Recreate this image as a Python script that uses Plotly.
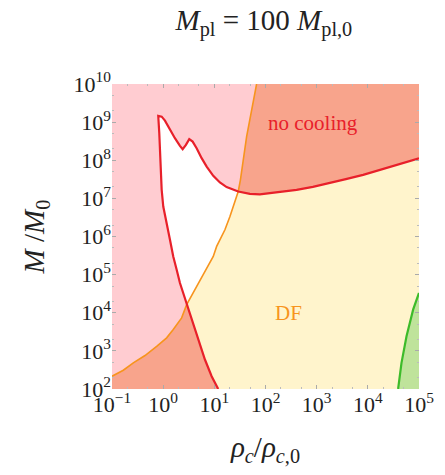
import numpy as np
import plotly.graph_objects as go

# Curves given as log10 values: (log10 rho_c/rho_c0, log10 M/M0)
# Dynamical-friction boundary, split at its two crossings with the cooling curve
df_lower_x = [-1.0, -0.779, -0.584, -0.355, -0.127, 0.068, 0.197, 0.361, 0.459]
df_lower_y = [2.336, 2.493, 2.687, 2.878, 3.121, 3.341, 3.559, 3.865, 4.213]
df_mid_x = [0.459, 0.621, 0.719, 0.850, 0.979, 1.045, 1.207, 1.305, 1.369, 1.467]
df_mid_y = [4.213, 4.606, 4.823, 5.130, 5.478, 5.740, 6.177, 6.525, 6.787, 7.180]
df_upper_x = [1.467, 1.510, 1.631, 1.826]
df_upper_y = [7.180, 7.486, 8.620, 10.0]

# Cooling boundary: lower tail, closed loop, right branch
cool_lower_x = [1.076, 0.947, 0.816, 0.686, 0.557, 0.459]
cool_lower_y = [2.0, 2.336, 2.773, 3.297, 3.820, 4.213]
cool_loop_x = [0.459, 0.393, 0.328, 0.264, 0.197, 0.133, 0.068, 0.002, -0.029,
               -0.043, -0.0625, -0.076, -0.096, -0.029, 0.035, 0.133, 0.230,
               0.328, 0.381, 0.445, 0.510, 0.576, 0.654, 0.752, 0.850, 0.979,
               1.109, 1.240, 1.369, 1.467]
cool_loop_y = [4.213, 4.475, 4.781, 5.130, 5.478, 5.915, 6.352, 6.787, 7.224,
               7.835, 8.272, 8.709, 9.162, 9.144, 9.039, 8.795, 8.578,
               8.376, 8.290, 8.403, 8.552, 8.489, 8.316, 8.054, 7.835, 7.591,
               7.416, 7.295, 7.224, 7.180]
cool_right_x = [1.467, 1.695, 1.891, 2.086, 2.340, 2.607, 2.926, 3.258, 3.570,
                3.908, 4.234, 4.561, 4.781, 5.0]
cool_right_y = [7.180, 7.120, 7.107, 7.138, 7.177, 7.224, 7.303, 7.400, 7.505,
                7.617, 7.748, 7.879, 7.958, 8.05]

# Third boundary near the high-density edge
green_x = [4.592, 4.658, 4.756, 4.885, 5.0]
green_y = [2.0, 2.686, 3.383, 4.082, 4.52]

x_ticks = [-1, 0, 1, 2, 3, 4, 5]
y_ticks = [2, 3, 4, 5, 6, 7, 8, 9, 10]

XMIN, XMAX, YMIN, YMAX = -1, 5, 2, 10

PINK = "#FFCCD1"
SALMON = "#F8A48C"
YELLOW = "#FFF4CC"
GREENFILL = "#BFE39B"
RED = "#E8202A"
ORANGE = "#F7941D"
GREEN = "#3DBB2A"


def p(v):
    return list(np.power(10.0, v))


def poly(xs, ys, color):
    return go.Scatter(x=p(xs), y=p(ys), mode="lines", fill="toself",
                      fillcolor=color, line=dict(width=0), hoverinfo="skip",
                      showlegend=False)


fig = go.Figure()

# DF region (to the right of the orange curve)
df_x = df_lower_x + df_mid_x[1:] + df_upper_x[1:]
df_y = df_lower_y + df_mid_y[1:] + df_upper_y[1:]
fig.add_trace(poly(df_x + [XMAX + 1, XMAX + 1, XMIN],
                   df_y + [YMAX, YMIN, YMIN], YELLOW))

# Overlap: no cooling and DF, upper right
fig.add_trace(poly(df_upper_x + [XMAX + 1] + cool_right_x[::-1],
                   df_upper_y + [YMAX] + cool_right_y[::-1], SALMON))

# Overlap: no cooling and DF, lower left
fig.add_trace(poly([XMIN] + df_lower_x + cool_lower_x[::-1][1:],
                   [YMIN] + df_lower_y + cool_lower_y[::-1][1:], SALMON))

# Allowed region inside the loop
fig.add_trace(poly(cool_loop_x + df_mid_x[::-1],
                   cool_loop_y + df_mid_y[::-1], "white"))

# Green region
fig.add_trace(poly(green_x + [XMAX], green_y + [YMIN], GREENFILL))

# Boundary lines
fig.add_trace(go.Scatter(x=p(df_x), y=p(df_y), mode="lines",
                         line=dict(color=ORANGE, width=1.6), showlegend=False))
cool_x = cool_lower_x + cool_loop_x[1:] + cool_right_x[1:]
cool_y = cool_lower_y + cool_loop_y[1:] + cool_right_y[1:]
fig.add_trace(go.Scatter(x=p(cool_x), y=p(cool_y), mode="lines",
                         line=dict(color=RED, width=2.2), showlegend=False))
fig.add_trace(go.Scatter(x=p(green_x), y=p(green_y), mode="lines",
                         line=dict(color=GREEN, width=2.2), showlegend=False))

SERIF = "Liberation Serif"

fig.add_annotation(x=2.926, y=8.98, text="no cooling", showarrow=False,
                   font=dict(family=SERIF, size=21, color=RED))
fig.add_annotation(x=2.45, y=4.0, text="DF", showarrow=False,
                   font=dict(family=SERIF, size=21, color=ORANGE))


def tick_text(e):
    s = str(e).replace("-", "\u2212")
    return f"10<sup>{s}</sup>"


axis_common = dict(type="log", ticks="inside", ticklen=4, tickcolor="#aaaaaa",
                   showgrid=False, zeroline=False, showline=False, mirror="ticks",
                   tickfont=dict(family=SERIF, size=22, color="#222222"),
                   minor=dict(ticks="inside", ticklen=2, tickcolor="#bbbbbb"))

fig.update_xaxes(range=[XMIN, XMAX], tickvals=p(x_ticks),
                 ticktext=[tick_text(e) for e in x_ticks],
                 title=dict(text="<i>\u03c1<sub>c</sub></i>/<i>\u03c1<sub>c</sub></i><sub>,0</sub>",
                            font=dict(family=SERIF, size=29, color="#222222"),
                            standoff=20),
                 **axis_common)
fig.update_yaxes(range=[YMIN, YMAX], tickvals=p(y_ticks),
                 ticktext=[tick_text(e) for e in y_ticks],
                 title=dict(text="<i>M</i> /<i>M</i><sub>0</sub>",
                            font=dict(family=SERIF, size=29, color="#222222"),
                            standoff=20),
                 **axis_common)

fig.update_layout(
    width=445, height=475,
    margin=dict(l=112, r=26, t=84, b=86),
    plot_bgcolor=PINK, paper_bgcolor="white",
    title=dict(text="<i>M</i><sub>pl</sub> = 100 <i>M</i><sub>pl,0</sub>",
               x=0.593, xanchor="center", y=0.958, yanchor="middle",
               font=dict(family=SERIF, size=29, color="#222222")),
)

fig.write_html("out.html")
